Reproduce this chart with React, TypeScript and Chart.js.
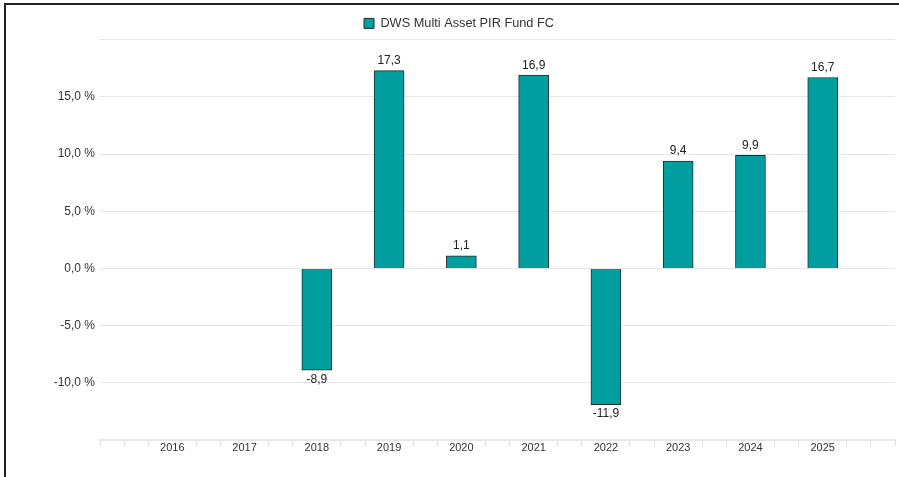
import React, { useEffect, useRef } from "react";
import { Chart, registerables } from "chart.js";

Chart.register(...registerables);

const seriesName = "DWS Multi Asset PIR Fund FC";
const years = [2016, 2017, 2018, 2019, 2020, 2021, 2022, 2023, 2024, 2025];
const values: (number | null)[] = [null, null, -8.9, 17.3, 1.1, 16.9, -11.9, 9.4, 9.9, 16.7];
const yTickValues = [-10, -5, 0, 5, 10, 15];
const xMin = 2015;
const xMax = 2026;

const FONT = '"Liberation Sans", Arial, Helvetica, sans-serif';
const fmt = (v: number) => v.toFixed(1).replace(".", ",");
const isInt = (v: number) => Math.abs(v - Math.round(v)) < 1e-6;

const valueLabels = {
  id: "valueLabels",
  afterDatasetsDraw(chart: any) {
    const ctx = chart.ctx;
    const meta = chart.getDatasetMeta(0);
    ctx.save();
    ctx.font = `12px ${FONT}`;
    ctx.fillStyle = "#222";
    ctx.textAlign = "center";
    meta.data.forEach((el: any, i: number) => {
      const v = values[i];
      if (v == null) return;
      if (v >= 0) {
        ctx.textBaseline = "bottom";
        ctx.fillText(fmt(v), el.x, el.y - 4);
      } else {
        ctx.textBaseline = "top";
        ctx.fillText(fmt(v), el.x, el.y + 3);
      }
    });
    ctx.restore();
  },
};

export default function App() {
  const ref = useRef<HTMLCanvasElement | null>(null);
  useEffect(() => {
    if (!ref.current) return;
    const chart = new Chart(ref.current, {
      type: "bar",
      data: {
        datasets: [
          {
            label: seriesName,
            data: years.map((x, i) => ({ x, y: values[i] })) as any,
            backgroundColor: "#009e9e",
            borderColor: "#1a2f2f",
            borderWidth: 1,
            barThickness: 30,
          },
        ],
      },
      options: {
        animation: false,
        responsive: false,
        maintainAspectRatio: false,
        layout: { padding: { top: 15, bottom: 0, left: 23, right: 4 } },
        plugins: {
          tooltip: { enabled: false },
          legend: {
            position: "top",
            align: "center",
            labels: {
              boxWidth: 10,
              boxHeight: 10,
              padding: 2,
              color: "#333",
              font: { family: FONT, size: 12.75 },
            },
          },
        },
        scales: {
          x: {
            type: "linear",
            min: xMin,
            max: xMax,
            offset: false,
            afterBuildTicks: (scale: any) => {
              const t = [];
              for (let i = 0; i <= (xMax - xMin) * 3; i++) t.push({ value: xMin + i / 3 });
              scale.ticks = t;
            },
            afterFit: (scale: any) => {
              scale.height = 37;
            },
            grid: {
              offset: false,
              drawOnChartArea: false,
              drawTicks: true,
              tickLength: 6,
              lineWidth: 1,
              color: (c: any) => {
                const v = c.tick ? c.tick.value : 0;
                return isInt(v) && v > xMin && v < xMax ? "rgba(0,0,0,0)" : "#e0e0e0";
              },
            },
            border: { display: true, color: "#e6e6e6", width: 2 },
            ticks: {
              autoSkip: false,
              maxRotation: 0,
              padding: -5,
              color: "#333",
              font: { family: FONT, size: 11 },
              callback: (v: any) => {
                const n = Number(v);
                return isInt(n) && years.includes(Math.round(n)) ? String(Math.round(n)) : "";
              },
            },
          },
          y: {
            min: -15,
            max: 20,
            afterBuildTicks: (scale: any) => {
              const t = [];
              for (let v = -15; v <= 20; v += 5) t.push({ value: v });
              scale.ticks = t;
            },
            afterFit: (scale: any) => {
              scale.width = 77;
            },
            grid: {
              drawTicks: false,
              lineWidth: 1,
              color: (c: any) => (c.tick && c.tick.value === -15 ? "rgba(0,0,0,0)" : "#e6e6e6"),
            },
            border: { display: false },
            ticks: {
              padding: 5,
              color: "#333",
              font: { family: FONT, size: 12 },
              callback: (v: any) => (yTickValues.includes(Number(v)) ? `${fmt(Number(v))} %` : ""),
            },
          },
        },
      },
      plugins: [valueLabels],
    });
    return () => chart.destroy();
  }, []);

  return (
    <div style={{ position: "fixed", left: 0, top: 0, width: 899, height: 477, background: "#fff" }}>
      <canvas ref={ref} width={899} height={477} style={{ position: "absolute", left: 0, top: 0, width: 899, height: 477 }} />
      <div
        style={{
          position: "absolute",
          left: 4,
          top: 3,
          width: 895,
          height: 474,
          borderTop: "2px solid #222",
          borderLeft: "2px solid #222",
          boxSizing: "border-box",
          pointerEvents: "none",
        }}
      />
    </div>
  );
}
